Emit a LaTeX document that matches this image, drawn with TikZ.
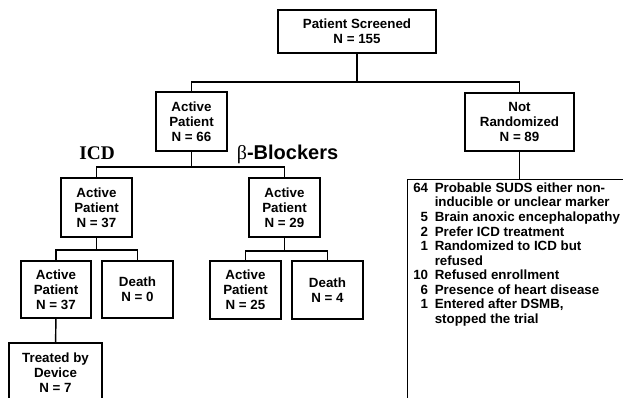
\documentclass[tikz,border=0pt]{standalone}
\usepackage{fontspec}
\setmainfont{Liberation Sans}
\newfontfamily\seriffont{Liberation Serif}
\usepackage{tikz}
\usetikzlibrary{positioning}
\tikzset{
box/.style={draw=black, line width=1.1pt, align=center, inner sep=1pt,
  font=\fontsize{10}{11.3}\selectfont\bfseries},
link/.style={line width=1.1pt, draw=black},
armlabel/.style={inner sep=0pt, anchor=base}
      }

\begin{document}
\begin{tikzpicture}[x=0.75pt,y=-0.75pt]
                \useasboundingbox (0,0) rectangle (623,397);
                \clip (0,0) rectangle (623,397);
                \node[box, minimum width=118.5pt, minimum height=32.25pt] (screened) at (357,31.5) {Patient Screened\\N = 155};
                \node[box, minimum width=53.25pt, minimum height=44.25pt] (active66) at (191.5,121.5) {Active\\Patient\\N = 66};
                \node[box, minimum width=81.75pt, minimum height=43.5pt] (notrand) at (519.5,122) {Not\\Randomized\\N = 89};
                \node[box, minimum width=53.25pt, minimum height=44.25pt] (icd37) at (96.5,207.5) {Active\\Patient\\N = 37};
                \node[box, minimum width=53.25pt, minimum height=44.25pt] (bb29) at (284.5,207.5) {Active\\Patient\\N = 29};
                \node[box, minimum width=52.5pt, minimum height=42.75pt] (icdactive) at (56,289.5) {Active\\Patient\\N = 37};
                \node[box, minimum width=53.25pt, minimum height=42.75pt] (icddeath) at (137.5,289.5) {Death\\N = 0};
                \node[box, minimum width=53.25pt, minimum height=43.5pt] (bbactive) at (245.5,290) {Active\\Patient\\N = 25};
                \node[box, minimum width=53.25pt, minimum height=43.5pt] (bbdeath) at (327.5,290) {Death\\N = 4};
                \node[box, minimum width=69.75pt, minimum height=45pt] (device) at (55.5,373) {Treated by\\Device\\N = 7};
                \node[box, anchor=north west, minimum width=172.5pt, minimum height=172.5pt] (reasons) at (407,179) {};
                \node[anchor=north west, inner sep=0pt, font=\fontsize{10}{10.9}\selectfont\bfseries] (reasonlist) at (413,182)
                  {\begin{tabular}{@{}r@{\hspace{5pt}}l@{}}
                   64 & Probable SUDS either non-\\
                      & inducible or unclear marker\\
                   5  & Brain anoxic encephalopathy\\
                   2  & Prefer ICD treatment\\
                   1  & Randomized to ICD but\\
                      & refused\\
                   10 & Refused enrollment\\
                   6  & Presence of heart disease\\
                   1  & Entered after DSMB,\\
                      & stopped the trial
                   \end{tabular}};
                \node[armlabel, font=\seriffont\fontsize{14.5}{16}\selectfont\bfseries] (icdlabel) at (97,159) {ICD};
                \node[armlabel, font=\fontsize{15}{17}\selectfont\bfseries] (bblabel) at (287.5,159) {{\seriffont\mdseries β}-Blockers};
                \coordinate (topsplit) at (357,82);
                \coordinate (armsplit) at (191.5,167);
                \coordinate (icdsplit) at (96.5,250);
                \coordinate (bbsplit) at (284.5,251);
                \draw[link] (screened) -- (topsplit);
                \draw[link] (active66.north) |- (topsplit) -| (notrand.north);
                \draw[link] (active66) -- (armsplit);
                \draw[link] (icd37.north) |- (armsplit) -| (bb29.north);
                \draw[link] (icd37) -- (icdsplit);
                \draw[link] (icdactive.north) |- (icdsplit) -| (icddeath.north);
                \draw[link] (bb29) -- (bbsplit);
                \draw[link] (bbactive.north) |- (bbsplit) -| (bbdeath.north);
                \draw[link] (icdactive) -- (device);
                \draw[link] (notrand) -- (reasons.north -| notrand.south);
            \end{tikzpicture}
\end{document}
